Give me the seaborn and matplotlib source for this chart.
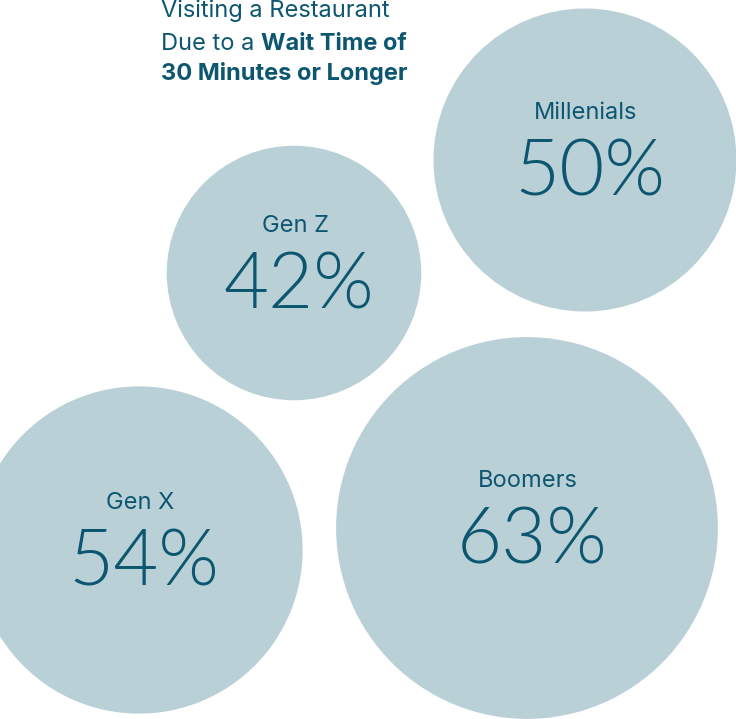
import matplotlib
matplotlib.use("Agg")
import matplotlib.pyplot as plt
import pandas as pd
import seaborn as sns

# Data
generations = ["Millenials", "Gen Z", "Boomers", "Gen X"]
pct_values = [50, 42, 63, 54]

# Layout (pixel space of the 736x719 canvas)
center_x = [585, 294, 527, 139]
center_y = [160, 273, 528, 550]
px_per_pct = 3.03

title_lines = ["Visiting a Restaurant", "Due to a ", "Wait Time of", "30 Minutes or Longer"]

circle_color = "#B9D0D7"
text_color = "#0D5670"

sns.set_theme(style="white")
plt.rcParams["font.family"] = ["Inter", "DejaVu Sans"]

df = pd.DataFrame({"gen": generations, "pct": pct_values,
                   "x": center_x, "y": center_y})
# marker area in pt^2 so that radius (px) = pct * px_per_pct at dpi 100
area = {v: (2 * v * px_per_pct * 0.72) ** 2 for v in df.pct}

fig = plt.figure(figsize=(7.36, 7.19), dpi=100)
ax = fig.add_axes([0, 0, 1, 1])
sns.scatterplot(data=df, x="x", y="y", size="pct", sizes=area,
                color=circle_color, edgecolor="none", linewidth=0,
                alpha=1, legend=False, ax=ax)
ax.set_xlim(0, 736)
ax.set_ylim(719, 0)
ax.axis("off")

for _, row in df.iterrows():
    ax.text(row.x + 1, row.y - 47, row.gen, ha="center", va="center",
            fontsize=17, color=text_color)
    ax.text(row.x + 5, row.y + 14, f"{row.pct}%", ha="center", va="center",
            fontsize=56, color=text_color, family=["Lato", "DejaVu Sans"],
            fontweight=300)

# title, first line partly cut by the top edge
ax.text(161, 17, title_lines[0], ha="left", va="baseline", fontsize=17,
        color=text_color)
t2 = ax.text(161, 50, title_lines[1], ha="left", va="baseline", fontsize=17,
             color=text_color)
ax.annotate(title_lines[2], xy=(1, 0), xycoords=t2, ha="left", va="bottom",
            fontsize=17, color=text_color, fontweight="bold")
ax.text(161, 80, title_lines[3], ha="left", va="baseline", fontsize=17,
        color=text_color, fontweight="bold")

fig.savefig("out.png", dpi=100)
